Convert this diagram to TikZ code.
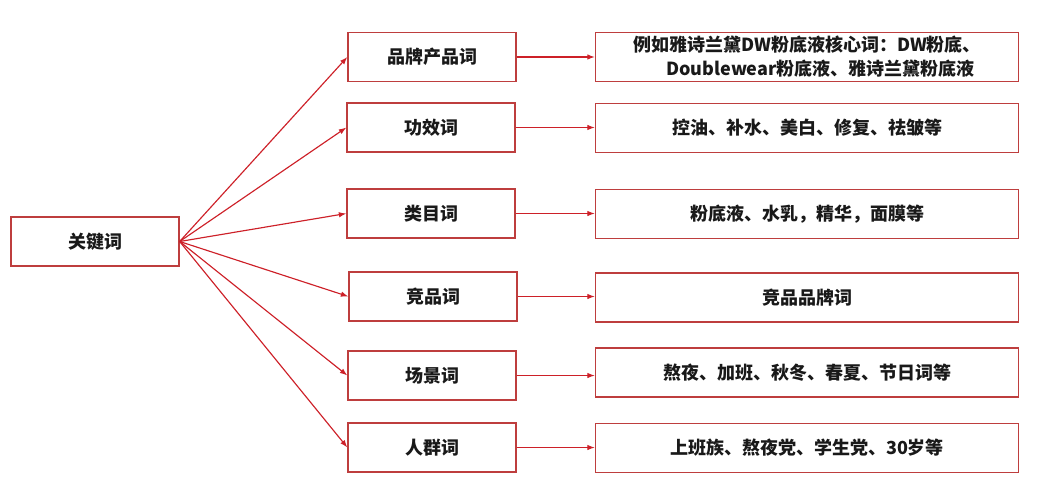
\documentclass[tikz,border=0pt]{standalone}
\usepackage{fontspec}
\newfontfamily\cjk{Noto Sans CJK SC}
\usetikzlibrary{arrows.meta}
\definecolor{boxred}{RGB}{190,62,62}
\definecolor{arrred}{RGB}{205,32,40}
\tikzset{
  kbox/.style={draw=boxred, line width=1.3pt, fill=white, rectangle, minimum height=49pt, inner sep=0pt,
    font=\cjk\bfseries\fontsize{18}{24}\selectfont, text=black!90, align=center},
  midbox/.style={kbox, minimum width=168pt},
  rbox/.style={kbox, minimum width=423pt},
  conn/.style={draw=arrred, line width=1.15pt, -{Latex[length=7.5pt,width=5.5pt]}}
}
\begin{document}
\begin{tikzpicture}[x=1pt,y=-1pt]
\useasboundingbox (0,0) rectangle (1048,481);
\node[midbox] (root) at (95,241.5) {关键词};
\node[midbox] (m1) at (432,57) {品牌产品词};
\node[midbox] (m2) at (431,127.5) {功效词};
\node[midbox] (m3) at (431,213.5) {类目词};
\node[midbox] (m4) at (433,296.5) {竞品词};
\node[midbox] (m5) at (432,375.5) {场景词};
\node[midbox] (m6) at (432,447.5) {人群词};
\node[rbox] (r1) at (807,57) {例如雅诗兰黛DW粉底液核心词：DW粉底、\\\hspace*{1.5em}Doublewear粉底液、雅诗兰黛粉底液};
\node[rbox] (r2) at (807,128) {控油、补水、美白、修复、祛皱等};
\node[rbox] (r3) at (807,214) {粉底液、水乳，精华，面膜等};
\node[rbox] (r4) at (807,297.5) {竞品品牌词};
\node[rbox] (r5) at (807,372.5) {熬夜、加班、秋冬、春夏、节日词等};
\node[rbox] (r6) at (807,448) {上班族、熬夜党、学生党、30岁等};
\foreach \i in {1,...,6}{
  \draw[conn] (root.east) -- (m\i.west);
  \draw[conn] (m\i.east) -- (m\i.east -| r\i.west);
}
\end{tikzpicture}
\end{document}
